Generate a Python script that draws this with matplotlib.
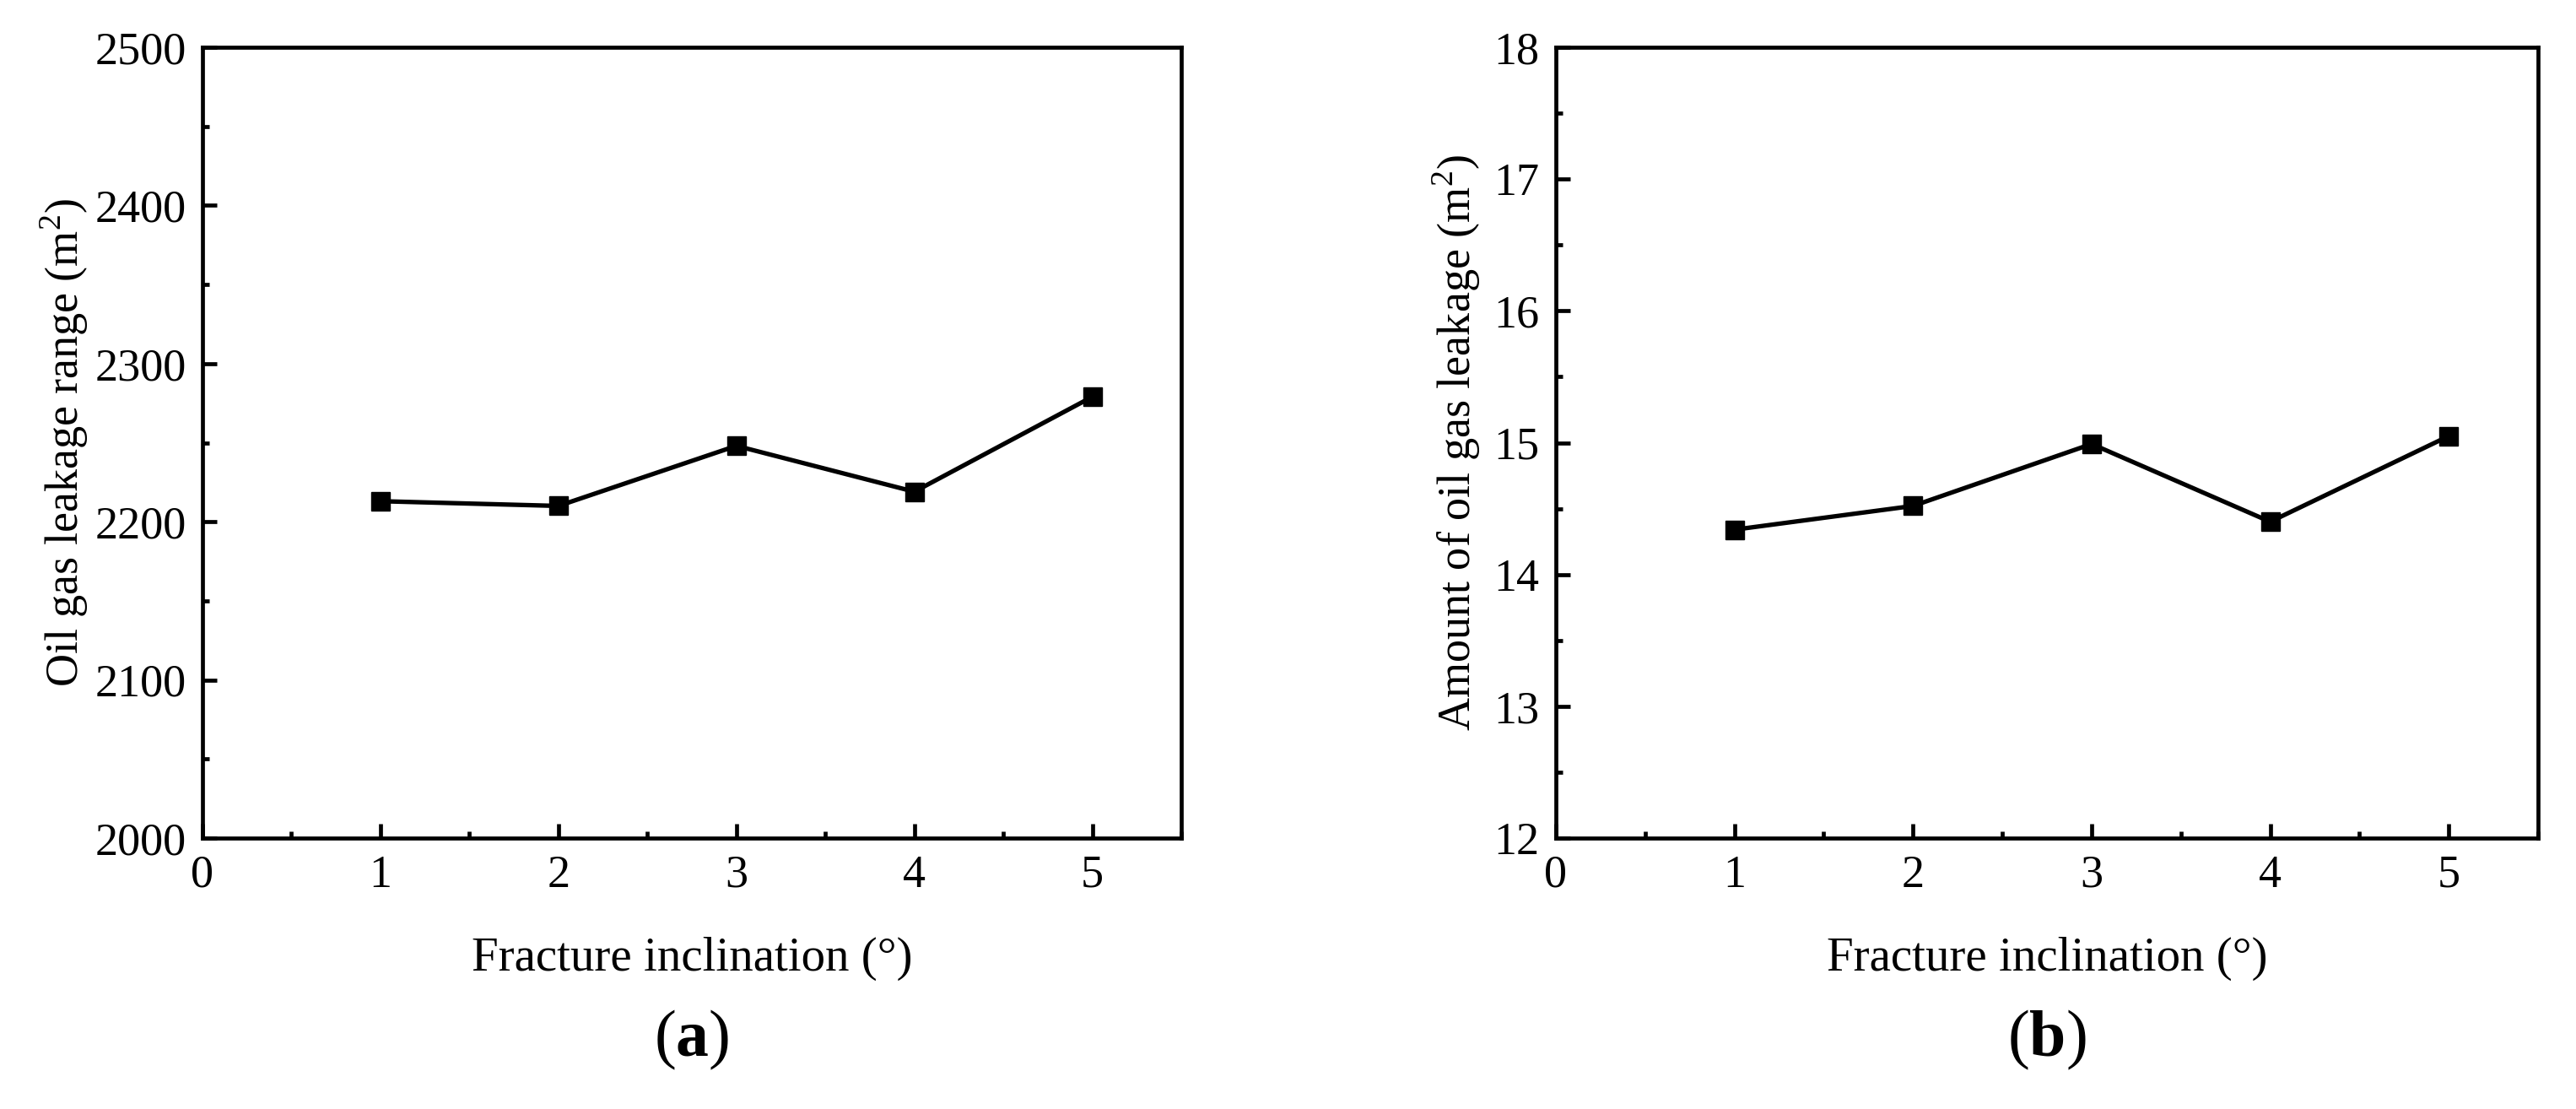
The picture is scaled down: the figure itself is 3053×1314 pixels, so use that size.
import matplotlib
matplotlib.use("Agg")
import matplotlib.pyplot as plt
from matplotlib.ticker import MultipleLocator

plt.rcParams["font.family"] = ["Liberation Serif", "DejaVu Serif"]
plt.rcParams["mathtext.fontset"] = "custom"
plt.rcParams["mathtext.rm"] = "Liberation Serif"
plt.rcParams["mathtext.bf"] = "Liberation Serif:bold"

# data
inclination = [1, 2, 3, 4, 5]
leak_range = [2213, 2210, 2248, 2219, 2279]
leak_amount = [14.34, 14.52, 14.99, 14.40, 15.05]

x_label = "Fracture inclination (°)"
y_label_a = "Oil gas leakage range (m$^2$)"
y_label_b = "Amount of oil gas leakage (m$^2$)"
captions = ["($\\mathbf{a}$)", "($\\mathbf{b}$)"]

W, H = 3053, 1314
fig = plt.figure(figsize=(W / 100, H / 100), dpi=100)


def style_axes(ax, ylim, ymajor, yminor):
    ax.set_xlim(0, 5.5)
    ax.set_ylim(*ylim)
    ax.xaxis.set_major_locator(MultipleLocator(1))
    ax.xaxis.set_minor_locator(MultipleLocator(0.5))
    ax.yaxis.set_major_locator(MultipleLocator(ymajor))
    ax.yaxis.set_minor_locator(MultipleLocator(yminor))
    ax.tick_params(which="both", direction="in", top=False, right=False,
                   width=3.4, labelsize=39, pad=14)
    ax.tick_params(which="major", length=12)
    ax.tick_params(which="minor", length=6)
    for s in ax.spines.values():
        s.set_linewidth(3.4)


# panel (a)
ax1 = fig.add_axes([240 / W, 1 - 993 / H, 1160 / W, 937 / H])
ax1.plot(inclination, leak_range, color="black", lw=3.8, marker="s", ms=16)
style_axes(ax1, (2000, 2500), 100, 50)
ax1.set_xlabel(x_label, fontsize=41, labelpad=34)
ax1.set_ylabel(y_label_a, fontsize=39, labelpad=4)

# panel (b)
ax2 = fig.add_axes([1844 / W, 1 - 993 / H, 1164 / W, 937 / H])
ax2.plot(inclination, leak_amount, color="black", lw=3.8, marker="s", ms=16)
style_axes(ax2, (12, 18), 1, 0.5)
ax2.set_xlabel(x_label, fontsize=41, labelpad=34)
ax2.set_ylabel(y_label_b, fontsize=39, labelpad=10)

# sub-captions under each panel
for ax, cap in zip([ax1, ax2], captions):
    pos = ax.get_position()
    fig.text((pos.x0 + pos.x1) / 2, 1 - 1232 / H, cap, fontsize=56,
             ha="center", va="center")

fig.savefig("out.png", dpi=100)
